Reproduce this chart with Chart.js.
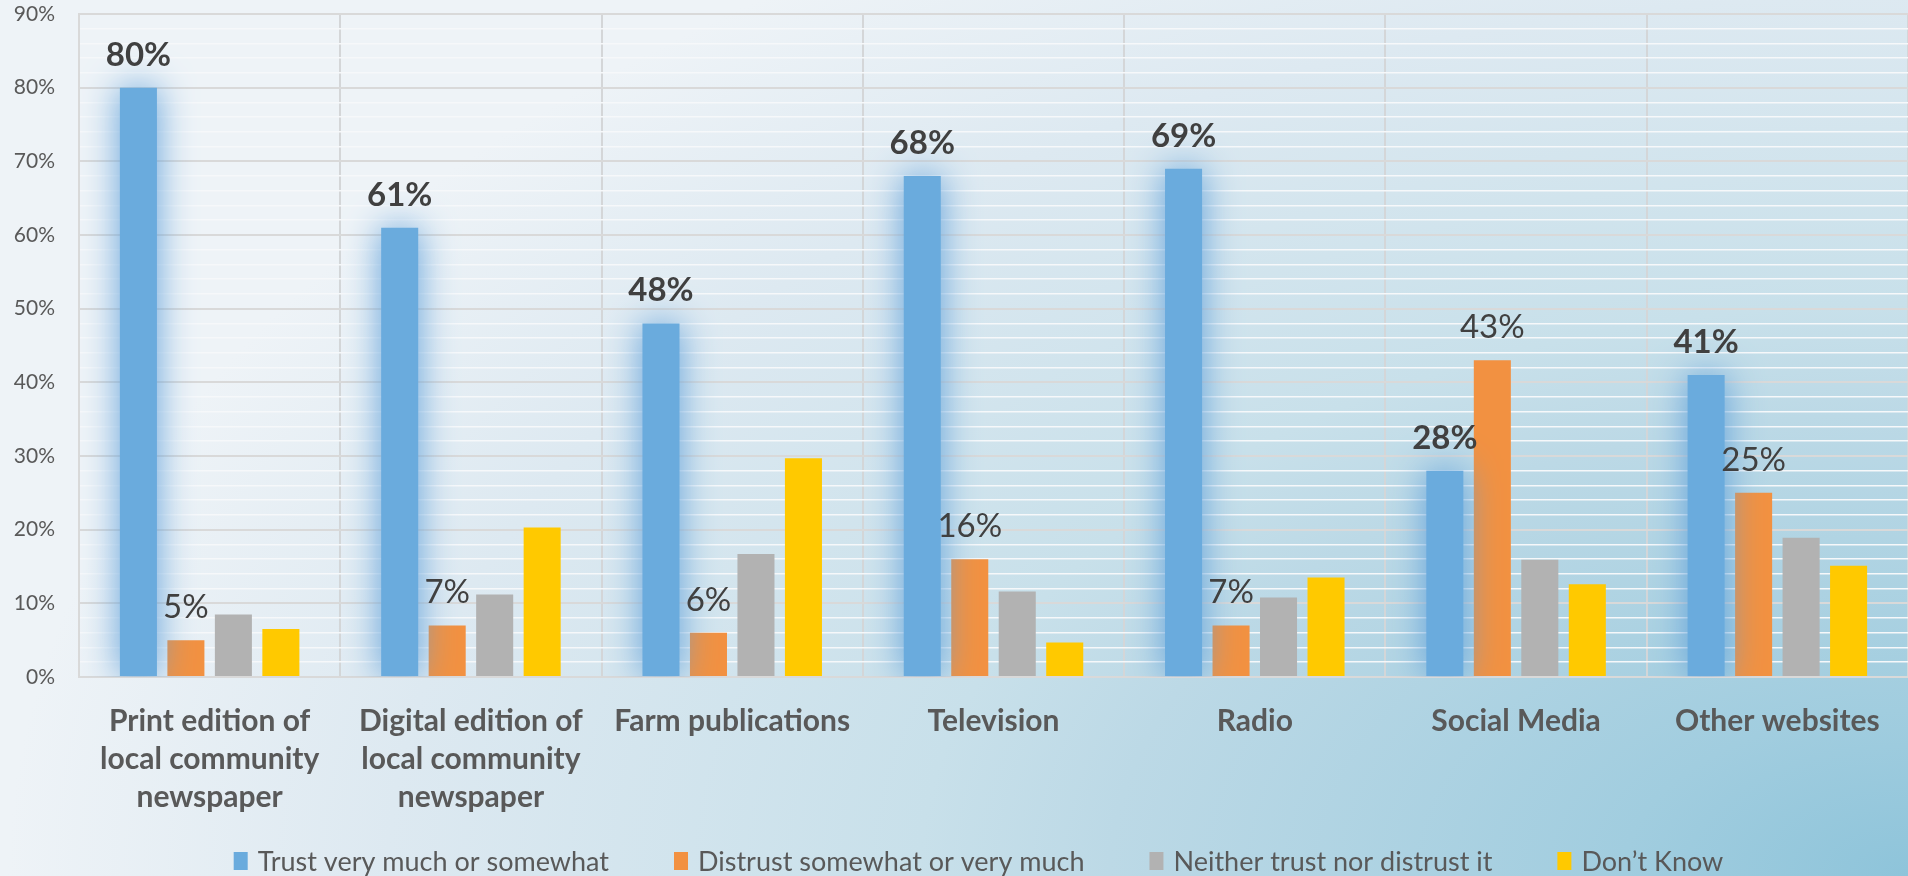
<!DOCTYPE html>
<html>
<head>
<meta charset="utf-8">
<title>Trust in news sources</title>
<script src="https://cdn.jsdelivr.net/npm/chart.js@4.4.1/dist/chart.umd.min.js"></script>
<style>
html, body { margin: 0; padding: 0; overflow: hidden; }
body {
    width: 1908px;
    height: 876px;
    background: radial-gradient(ellipse 1900px 1100px at 100% 100%, #8ec4da 0%, #a1cddf 15%, #bcd9e6 42%, #c8e0ea 52%, #dde9f1 80%, #eef3f7 100%);
}
#wrap { position: absolute; left: 0; top: 0; width: 1908px; height: 876px; }
</style>
</head>
<body>
<div id="wrap"><canvas id="trustChart"></canvas></div>
<script>
const categories = [
    ['Print edition of', 'local community', 'newspaper'],
    ['Digital edition of', 'local community', 'newspaper'],
    'Farm publications',
    'Television',
    'Radio',
    'Social Media',
    'Other websites'
];
const seriesNames = [
    'Trust very much or somewhat',
    'Distrust somewhat or very much',
    'Neither trust nor distrust it',
    'Don\u2019t Know'
];
const trustValues    = [80, 61, 48, 68, 69, 28, 41];
const distrustValues = [5, 7, 6, 16, 7, 43, 25];
const neitherValues  = [8.5, 11.2, 16.7, 11.6, 10.8, 15.9, 18.9];
const dontKnowValues = [6.5, 20.3, 29.7, 4.7, 13.5, 12.6, 15.1];
const seriesColors = ['#6aabdd', '#f29141', '#b2b2b2', '#ffc900'];

// y axis: labelled every 10%, light gridline every 2%
const yMax = 90;
const yMajorStep = 10;
const yMinorStep = 2;

// which series get a value printed over the bars, and in what weight
const labelledSeries = [
    { index: 0, weight: 'bold' },
    { index: 1, weight: 'normal' }
];

// soft blue halo behind the "trust" bars
const barGlow = {
    id: 'barGlow',
    beforeDatasetDraw(chart, args) {
        if (args.index !== 0) return;
        const ctx = chart.ctx;
        ctx.save();
        ctx.shadowColor = 'rgba(95, 160, 218, 1)';
        ctx.shadowBlur = 36;
    },
    afterDatasetDraw(chart, args) {
        if (args.index !== 0) return;
        chart.ctx.restore();
    }
};

const valueLabels = {
    id: 'valueLabels',
    afterDatasetsDraw(chart) {
        const ctx = chart.ctx;
        ctx.save();
        ctx.fillStyle = '#404040';
        ctx.textAlign = 'center';
        ctx.textBaseline = 'alphabetic';
        labelledSeries.forEach(function (s) {
            const ds = chart.data.datasets[s.index];
            ctx.font = s.weight + ' 33px Lato';
            chart.getDatasetMeta(s.index).data.forEach(function (bar, j) {
                ctx.fillText(Math.round(ds.data[j]) + '%', bar.x, bar.y - 22);
            });
        });
        ctx.restore();
    }
};

// legend row along the bottom edge, drawn by hand so the x labels get the full height
const bottomLegend = {
    id: 'bottomLegend',
    afterDraw(chart) {
        const ctx = chart.ctx;
        const boxW = 14, boxH = 18, textGap = 10, itemGap = 65;
        const y = 862;
        ctx.save();
        ctx.font = '27px Lato';
        ctx.textBaseline = 'middle';
        ctx.textAlign = 'left';
        const widths = chart.data.datasets.map(function (ds) { return ctx.measureText(ds.label).width; });
        let total = (widths.length - 1) * itemGap;
        widths.forEach(function (w) { total += boxW + textGap + w; });
        let x = (chart.chartArea.left + chart.chartArea.right) / 2 - 15 - total / 2;
        chart.data.datasets.forEach(function (ds, i) {
            ctx.fillStyle = ds.backgroundColor;
            ctx.fillRect(x, y - boxH / 2 - 1, boxW, boxH);
            ctx.fillStyle = '#595959';
            ctx.fillText(ds.label, x + boxW + textGap, y);
            x += boxW + textGap + widths[i] + itemGap;
        });
        ctx.restore();
    }
};

const seriesData = [trustValues, distrustValues, neitherValues, dontKnowValues];

new Chart(document.getElementById('trustChart'), {
    type: 'bar',
    data: {
        labels: categories,
        datasets: seriesNames.map(function (name, i) {
            return {
                label: name,
                data: seriesData[i],
                backgroundColor: seriesColors[i],
                borderWidth: 0
            };
        })
    },
    options: {
        responsive: true,
        maintainAspectRatio: false,
        animation: false,
        datasets: {
            bar: { categoryPercentage: 0.727, barPercentage: 0.78 }
        },
        layout: { padding: 0 },
        plugins: {
            tooltip: { enabled: false },
            legend: { display: false }
        },
        scales: {
            x: {
                grid: { color: '#d4d6d8', lineWidth: 2, drawTicks: false, offset: true },
                border: { color: '#d9d9d9', width: 2 },
                ticks: {
                    color: '#595959',
                    font: { family: 'Lato', size: 30, weight: 'bold', lineHeight: 1.27 },
                    padding: 25,
                    maxRotation: 0,
                    autoSkip: false
                },
                afterFit(scale) { scale.height = 199; }
            },
            y: {
                min: 0,
                max: yMax,
                ticks: {
                    stepSize: yMinorStep,
                    maxTicksLimit: 100,
                    autoSkip: false,
                    callback: function (v) { return v % yMajorStep === 0 ? v + '%' : ''; },
                    color: '#595959',
                    font: { family: 'Lato', size: 21 },
                    padding: 24
                },
                grid: {
                    z: -1,
                    drawTicks: false,
                    color: function (c) { return c.tick.value % yMajorStep === 0 ? '#d9d9d9' : '#f6f8fa'; },
                    lineWidth: function (c) { return c.tick.value % yMajorStep === 0 ? 2 : 1.6; }
                },
                border: { color: '#d9d9d9', width: 2 },
                afterFit(scale) {
                    scale.width = 79;
                    scale.paddingTop = 14;
                    scale.paddingBottom = 0;
                }
            }
        }
    },
    plugins: [barGlow, valueLabels, bottomLegend]
});
</script>
</body>
</html>
